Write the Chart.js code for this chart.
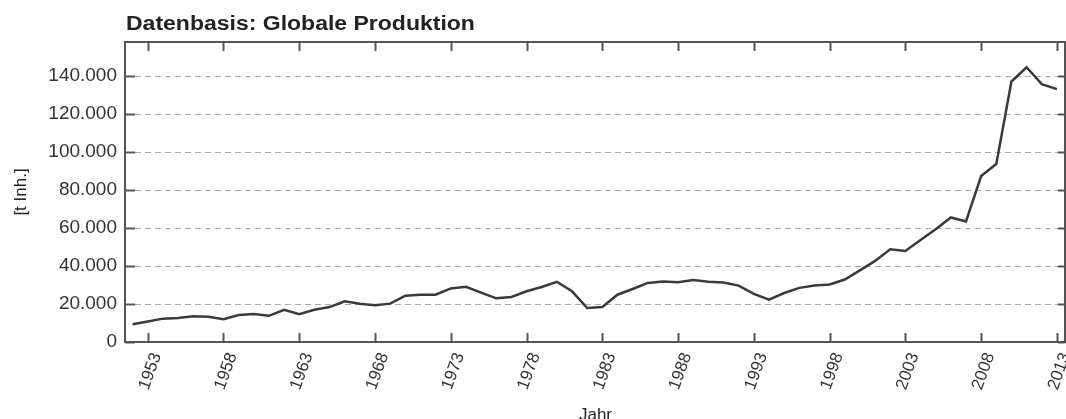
<!DOCTYPE html>
<html>
<head>
<meta charset="utf-8">
<script src="https://cdn.jsdelivr.net/npm/chart.js@4.4.1/dist/chart.umd.min.js"></script>
<style>
  body { margin: 0; background: #fff; }
  #wrap { width: 1066px; height: 419px; }
</style>
</head>
<body>
<div id="wrap"><canvas id="prod" width="1066" height="419"></canvas></div>
<script>
// Globale Produktion, t Inh., per year
const years = [1952, 1953, 1954, 1955, 1956, 1957, 1958, 1959, 1960, 1961,
  1962, 1963, 1964, 1965, 1966, 1967, 1968, 1969, 1970, 1971,
  1972, 1973, 1974, 1975, 1976, 1977, 1978, 1979, 1980, 1981,
  1982, 1983, 1984, 1985, 1986, 1987, 1988, 1989, 1990, 1991,
  1992, 1993, 1994, 1995, 1996, 1997, 1998, 1999, 2000, 2001,
  2002, 2003, 2004, 2005, 2006, 2007, 2008, 2009, 2010, 2011,
  2012, 2013];
const production = [9400, 10800, 12300, 12600, 13600, 13300, 12000, 14200, 14700, 13800,
  17000, 14700, 17000, 18400, 21400, 20200, 19300, 20200, 24400, 24900,
  24900, 28200, 29100, 26000, 23000, 23700, 26700, 29000, 31700, 26700,
  17900, 18400, 24900, 27900, 31100, 31800, 31500, 32700, 31700, 31300,
  29700, 25300, 22300, 25800, 28500, 29800, 30300, 32900, 37700, 42700,
  48800, 47900, 53700, 59400, 65600, 63500, 87400, 93700, 137200, 144700,
  135800, 133200];
const xTickYears = [1953, 1958, 1963, 1968, 1973, 1978, 1983, 1988, 1993, 1998, 2003, 2008, 2013];
const yTickValues = [0, 20000, 40000, 60000, 80000, 100000, 120000, 140000];

const FONT = '"Liberation Sans", Arial, sans-serif';
const fmt = v => String(v).replace(/\B(?=(\d{3})+(?!\d))/g, '.');

// title, frame and inward tick marks
const framePlugin = {
  id: 'frame',
  afterDraw(chart) {
    const {ctx, chartArea: a, scales} = chart;
    ctx.save();
    ctx.fillStyle = '#222';
    ctx.font = 'bold 20px ' + FONT;
    ctx.textBaseline = 'alphabetic';
    ctx.translate(a.left + 1, 30);
    ctx.scale(1.15, 1);  // the source lettering is a bit wide
    ctx.fillText('Datenbasis: Globale Produktion', 0, 0);
    ctx.restore();

    ctx.save();
    ctx.strokeStyle = '#555';
    ctx.lineWidth = 2;
    ctx.strokeRect(a.left, a.top, a.right - a.left - 1, a.bottom - a.top);
    ctx.beginPath();
    xTickYears.forEach(v => {
      const x = Math.round(scales.x.getPixelForValue(v)) + 0.5;
      ctx.moveTo(x, a.bottom); ctx.lineTo(x, a.bottom - 9);
      ctx.moveTo(x, a.top); ctx.lineTo(x, a.top + 9);
    });
    yTickValues.forEach(v => {
      const y = Math.round(scales.y.getPixelForValue(v)) + 0.5;
      ctx.moveTo(a.left, y); ctx.lineTo(a.left + 10, y);
      ctx.moveTo(a.right - 1, y); ctx.lineTo(a.right - 8, y);
    });
    ctx.stroke();
    ctx.restore();
  }
};

const noPad = s => { s.paddingLeft = 0; s.paddingRight = 0; s.paddingTop = 0; s.paddingBottom = 0; };

new Chart(document.getElementById('prod'), {
  type: 'line',
  data: {
    datasets: [{
      data: years.map((y, i) => ({x: y, y: production[i]})),
      borderColor: '#3a3a3a',
      borderWidth: 2.5,
      pointRadius: 0,
      tension: 0,
      fill: false
    }]
  },
  options: {
    responsive: false,
    animation: false,
    layout: {autoPadding: false, padding: {top: 42, left: 0, right: 0, bottom: 0}},
    plugins: {legend: {display: false}, tooltip: {enabled: false}, title: {display: false}},
    scales: {
      x: {
        type: 'linear',
        min: 1951.5,
        max: 2013.6,
        afterFit: s => { s.height = 77; noPad(s); },
        afterBuildTicks: s => { s.ticks = xTickYears.map(v => ({value: v})); },
        grid: {display: false, drawTicks: false},
        border: {display: false},
        ticks: {
          autoSkip: false,
          minRotation: 70,
          maxRotation: 70,
          padding: 8,
          labelOffset: 9,
          color: '#333',
          font: {family: FONT, size: 17},
          callback: v => String(v)
        },
        title: {display: true, text: 'Jahr', color: '#222', font: {family: FONT, size: 17}, padding: {top: 0, bottom: -7}}
      },
      y: {
        min: 0,
        max: 158000,
        afterFit: s => { s.width = 125; noPad(s); },
        afterBuildTicks: s => { s.ticks = yTickValues.map(v => ({value: v})); },
        grid: {
          color: c => c.tick.value === 0 ? 'rgba(0,0,0,0)' : '#aaa',
          lineWidth: 1,
          drawTicks: false
        },
        border: {display: false, dash: [6, 4]},
        ticks: {
          padding: 8,
          color: '#333',
          font: {family: FONT, size: 19},
          callback: v => fmt(v)
        },
        title: {display: true, text: '[t Inh.]', color: '#222', font: {family: FONT, size: 17}, padding: {top: 11, bottom: 0}}
      }
    }
  },
  plugins: [framePlugin]
});
</script>
</body>
</html>
